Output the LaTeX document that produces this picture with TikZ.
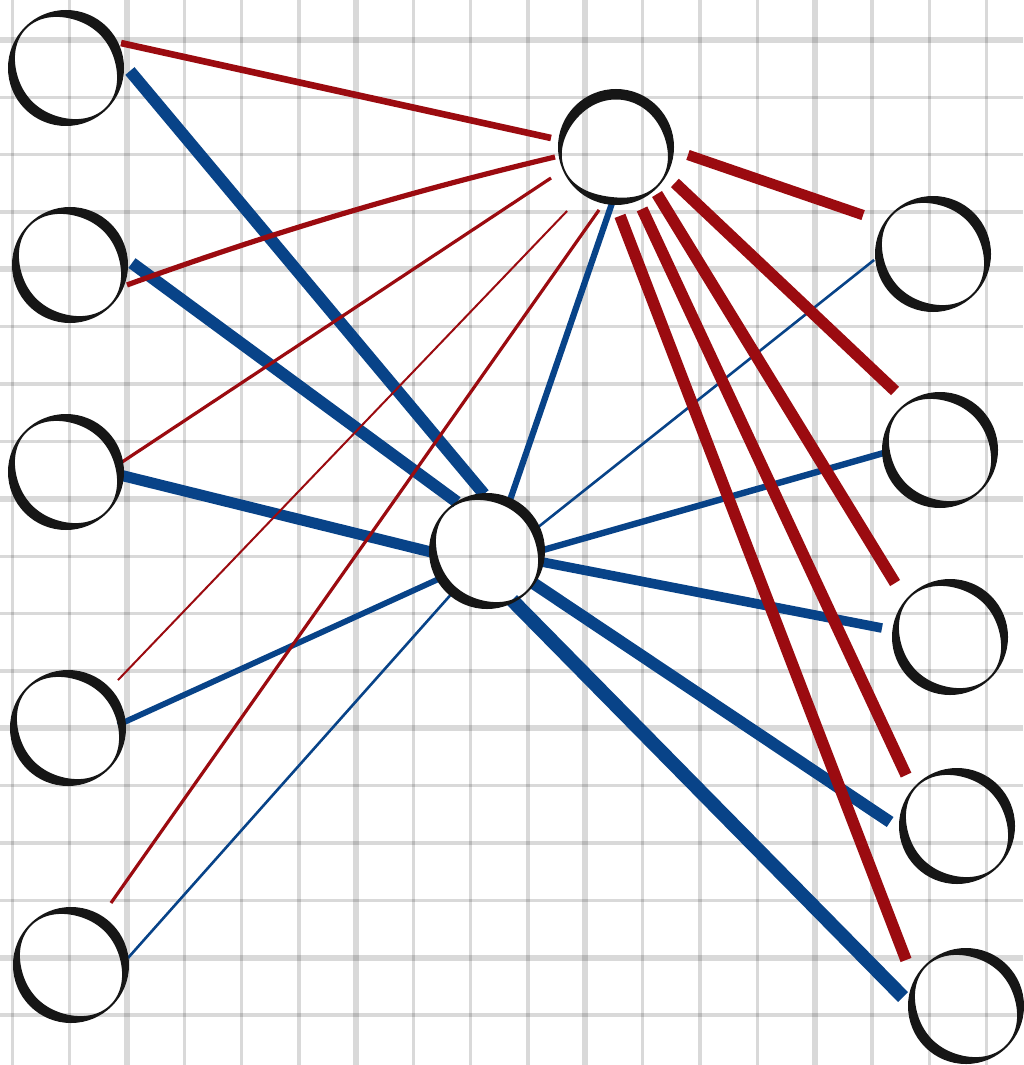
\documentclass[tikz,border=0pt]{standalone}
\usetikzlibrary{calc}
\definecolor{linkred}{RGB}{155,11,16}
\definecolor{linkblue}{RGB}{8,67,136}
\definecolor{ringblack}{RGB}{22,22,22}
\tikzset{
  gridminor/.style={line width=1.65pt, draw=black, opacity=0.15},
  gridmajor/.style={line width=3pt, draw=black, opacity=0.15},
  neuron/.style={circle, minimum size=58pt, inner sep=0pt, outer sep=0pt},
  ring/.style={fill=ringblack, even odd rule},
  exc/.style={draw=linkred, line cap=butt},
  inh/.style={draw=linkblue, line cap=butt},
}
\begin{document}
\begin{tikzpicture}[x=0.5pt, y=-0.5pt]
\useasboundingbox (0,0) rectangle (1023,1065);
\fill[white] (0,0) rectangle (1023,1065);

% squared paper: thin lines every cell, heavier every fourth
\begin{scope}
  \clip (0,0) rectangle (1023,1065);
  \foreach \k in {-2,...,15} {
    \pgfmathsetmacro\gx{127+57.3*\k}
    \pgfmathtruncatemacro\m{mod(\k+8,4)}
    \ifnum\m=0 \draw[gridmajor] (\gx,0) -- (\gx,1065);
    \else \draw[gridminor] (\gx,0) -- (\gx,1065); \fi
  }
  \foreach \k in {0,...,17} {
    \pgfmathsetmacro\gy{40+57.35*\k}
    \pgfmathtruncatemacro\m{mod(\k,4)}
    \ifnum\m=0 \draw[gridmajor] (0,\gy) -- (1023,\gy);
    \else \draw[gridminor] (0,\gy) -- (1023,\gy); \fi
  }
\end{scope}

% neurons
\node[neuron] (L1) at (66,68) {};
\node[neuron] (L2) at (70,265) {};
\node[neuron] (L3) at (66,472) {};
\node[neuron] (L4) at (68,728) {};
\node[neuron] (L5) at (71,965) {};
\node[neuron] (T)  at (616,147) {};
\node[neuron] (C)  at (487,551) {};
\node[neuron] (R1) at (933,254) {};
\node[neuron] (R2) at (940,450) {};
\node[neuron] (R3) at (950,637) {};
\node[neuron] (R4) at (957,826) {};
\node[neuron] (R5) at (966,1006) {};

% blue links
\draw[inh, line width=6pt]    ($(L1)+(-2.7:32pt)$)  -- ($(C)+(93:28.5pt)$);
\draw[inh, line width=6pt]    ($(L2)+(1.8:31pt)$)   -- ($(C)+(121.5:28.7pt)$);
\draw[inh, line width=5.5pt]  ($(L3)+(-3.2:27pt)$)  -- ($(C)+(182.2:26pt)$);
\draw[inh, line width=2.9pt]  ($(L4)+(3.4:25pt)$)   -- ($(C)+(210.6:25.5pt)$);
\draw[inh, line width=1.3pt]  ($(L5)+(7:28.7pt)$)   -- ($(C)+(230.6:25.2pt)$);
\draw[inh, line width=3.1pt]  ($(C)+(65.7:28pt)$)   -- ($(T)+(266.6:27pt)$);
\draw[inh, line width=1.3pt]  ($(C)+(22.9:24.4pt)$) -- ($(R1)+(185.8:29.6pt)$);
\draw[inh, line width=3.2pt]  ($(C)+(1:28pt)$)      -- ($(R2)+(182.2:26.5pt)$);
\draw[inh, line width=4.8pt]  ($(C)+(-11.3:28pt)$)  -- ($(R3)+(172.5:34.3pt)$);
\draw[inh, line width=6pt]    ($(C)+(-34.8:28pt)$)  -- ($(R4)+(176.6:33.5pt)$);
\draw[inh, line width=7pt]    ($(C)+(-63:27.5pt)$)  -- ($(R5)+(171.9:31.8pt)$);

% red links
\draw[exc, line width=3.3pt] ($(L1)+(24.4:30.2pt)$) -- ($(T)+(172.1:32.8pt)$);
\draw[exc, line width=2.6pt] ($(L2)+(-19.3:30.2pt)$) .. controls +(143,-52) and +(-143,34) .. ($(T)+(189.3:30.9pt)$);
\draw[exc, line width=1.6pt] ($(L3)+(10.1:28.5pt)$) -- ($(T)+(205.5:36pt)$);
\draw[exc, line width=1pt]   ($(L4)+(43.8:34.6pt)$) -- ($(T)+(232.6:40.3pt)$);
\draw[exc, line width=1.6pt] ($(L5)+(57.2:36.9pt)$) -- ($(T)+(254.9:32.6pt)$);
\draw[exc, line width=5.2pt] ($(T)+(-6.3:36.2pt)$)  -- ($(R1)+(150.9:40pt)$);
\draw[exc, line width=5.8pt] ($(T)+(-31.4:34.5pt)$) -- ($(R2)+(127.3:37.1pt)$);
\draw[exc, line width=5.8pt] ($(T)+(-48.9:31.2pt)$) -- ($(R3)+(135.5:38.5pt)$);
\draw[exc, line width=5.8pt] ($(T)+(-67.2:33.6pt)$) -- ($(R4)+(135:36pt)$);
\draw[exc, line width=5.8pt] ($(T)+(-86.7:34.5pt)$) -- ($(R5)+(142.5:37.8pt)$);

% brush-stroke rings: an even band that thins out in two places
% (\p and \q are the directions of the thin spots, clockwise from east)
\foreach \n/\p/\q in {L1/45/225, L2/45/225, L3/45/225, L4/45/225, L5/45/225,
    T/40/155, C/45/225, R1/45/225, R2/45/225, R3/45/225, R4/45/225, R5/45/225}
{
  \begin{scope}[shift={(\n)}]
    \fill[ring] (0,0) circle[radius=58]
      plot[domain=0:358, samples=180]
        (\x:{47.5+8.5*pow(abs(cos((\x-\p)/2)),14)+8.5*pow(abs(cos((\x-\q)/2)),14)})
      -- cycle;
  \end{scope}
}
\end{tikzpicture}
\end{document}
